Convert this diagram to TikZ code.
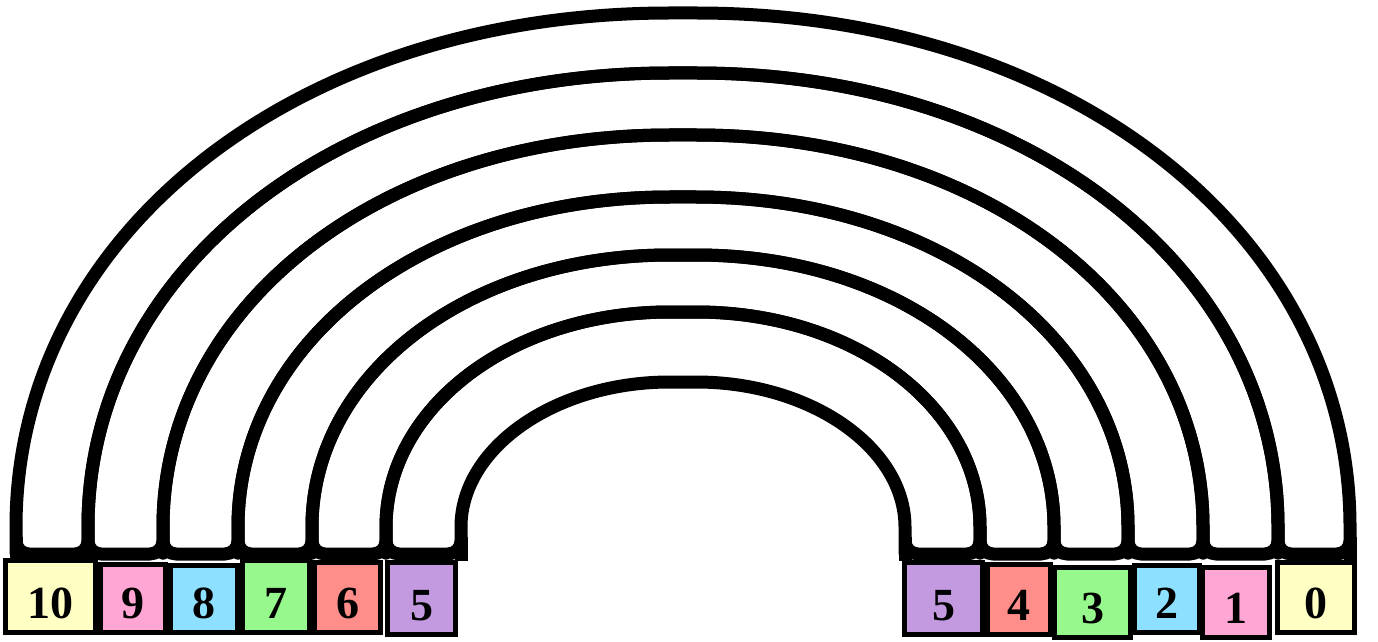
\documentclass[tikz,border=0pt]{standalone}
\usepackage{fontspec}
\setmainfont{Liberation Serif}
\definecolor{cyel}{HTML}{FFFFC4}
\definecolor{cpink}{HTML}{FFA6D5}
\definecolor{cblue}{HTML}{8DE0FF}
\definecolor{cgreen}{HTML}{97F98D}
\definecolor{cred}{HTML}{FF8D8A}
\definecolor{cpurp}{HTML}{C39AE0}
\begin{document}
\begin{tikzpicture}[x=1pt,y=1pt,
  band/.style={draw=black, line width=13pt, rounded corners=13pt, line join=round},
  box/.style={draw=black, line width=5pt, rectangle, inner sep=0pt},
  lbl/.style={font=\fontsize{46}{46}\selectfont\bfseries, inner sep=0pt, anchor=base}]
\useasboundingbox (0,0) rectangle (1378,641);
\fill[white] (0,0) rectangle (1378,641);
\def\k{0.58}
% rainbow bands (outer half-width/height, inner half-width/height)
\foreach \ao/\bo/\ai/\bi in {667/527/595/467, 595/467/520/405, 520/405/445/343, 445/343/371/285, 371/285/297/228, 297/228/222/158}{
  \draw[band] (683-\ao,87) -- (683-\ao,101)
     .. controls (683-\ao,101+\k*\bo) and (683-\k*\ao,101+\bo) .. (683,101+\bo)
     .. controls (683+\k*\ao,101+\bo) and (683+\ao,101+\k*\bo) .. (683+\ao,101)
     -- (683+\ao,87) -- (683+\ai,87) -- (683+\ai,101)
     .. controls (683+\ai,101+\k*\bi) and (683+\k*\ai,101+\bi) .. (683,101+\bi)
     .. controls (683-\k*\ai,101+\bi) and (683-\ai,101+\k*\bi) .. (683-\ai,101)
     -- (683-\ai,87) -- cycle;
}
% square outer corners of the feet
\fill (9.5,80.5) rectangle (22.5,104);
\fill (1343.5,80.5) rectangle (1356.5,104);
\fill (454.5,80.5) rectangle (467.5,104);
\fill (898.5,80.5) rectangle (911.5,104);
% boxes: x1/ytop/x2/ybot (pixel coordinates), colour, label
\foreach \n/\xa/\ya/\xb/\yb/\c/\t in {
  L10/3/558/98/635/cyel/10, L9/98/562/168/635/cpink/9, L8/168/563/240/635/cblue/8,
  L7/240/558/312/635/cgreen/7, L6/312/560/383/635/cred/6, L5/385/560/458/637/cpurp/5,
  R5/902/560/985/637/cpurp/5, R4/985/562/1053/637/cred/4, R3/1052/565/1133/640/cgreen/3,
  R2/1132/563/1202/635/cblue/2, R1/1200/565/1272/640/cpink/1, R0/1275/560/1357/635/cyel/0}{
  \node[box, fill=\c, minimum width={\xb-\xa-5}, minimum height={\yb-\ya-5}]
    (\n) at ({(\xa+\xb)/2},{641-(\ya+\yb)/2}) {};
  \node[lbl] (\n t) at ({(\xa+\xb)/2},{641-\yb+17}) {\t};
}
\end{tikzpicture}
\end{document}
